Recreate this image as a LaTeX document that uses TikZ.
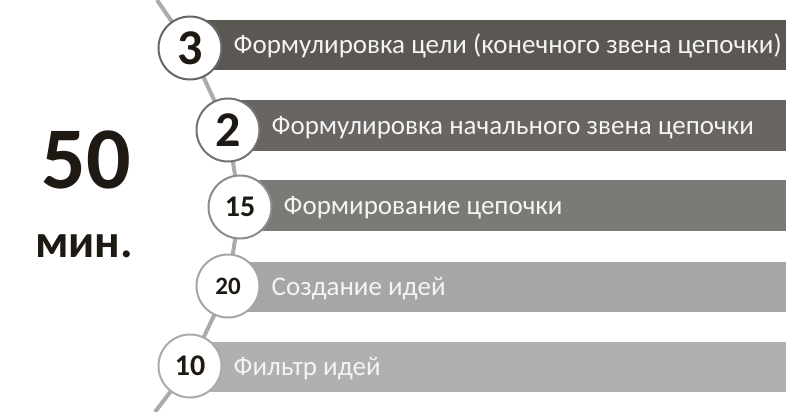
\documentclass[tikz,border=0pt]{standalone}
\usepackage{fontspec}
\setmainfont{Carlito}
\definecolor{barone}{HTML}{5B5753}
\definecolor{bartwo}{HTML}{686562}
\definecolor{barthree}{HTML}{7C7A77}
\definecolor{barfour}{HTML}{A7A6A5}
\definecolor{barfive}{HTML}{B1B0AF}
\definecolor{spinegray}{HTML}{ABABAB}
\definecolor{numbrown}{HTML}{1E1912}
\definecolor{bartext}{HTML}{F4F4F4}
\begin{document}
\begin{tikzpicture}[
            x=1pt, y=-1pt,
            font=\fontsize{27}{32}\selectfont,
            spineline/.style={spinegray, line width=4pt},
            stepbar/.style={anchor=west, inner sep=0pt, minimum height=50pt},
            stepcircle/.style={circle, draw, fill=white, line width=2pt, inner sep=0pt, minimum size=63pt, text=numbrown},
            steptext/.style={anchor=west, inner sep=0pt, text=bartext, text height=17pt, text depth=0pt, xshift=11pt}
        ]
        \useasboundingbox (0,0) rectangle (790,412);
        \def\barright{786};

        %% Spine

        \coordinate (spine_top) at (157,0);
        \coordinate (spine_bottom) at (155,412);
        \coordinate (step1) at (190,48);
        \coordinate (step2) at (228,130);
        \coordinate (step3) at (240,207);
        \coordinate (step4) at (228,286);
        \coordinate (step5) at (190,366);

        \draw[spineline] (spine_top) -- (step1) -- (step2) -- (step3) -- (step4) -- (step5) -- (spine_bottom);

        %% Bars

        \node[stepbar, fill=barone, minimum width=\barright-190] (bar1) at (190,45) {};
        \node[stepbar, fill=bartwo, minimum width=\barright-228, minimum height=51pt] (bar2) at (228,125.5) {};
        \node[stepbar, fill=barthree, minimum width=\barright-240, minimum height=51pt] (bar3) at (240,205.5) {};
        \node[stepbar, fill=barfour, minimum width=\barright-228] (bar4) at (228,287) {};
        \node[stepbar, fill=barfive, minimum width=\barright-190] (bar5) at (190,367) {};

        %% Circles

        \node[stepcircle, draw=black!60, font=\bfseries\fontsize{50}{50}\selectfont] (c1) at (step1) {3};
        \node[stepcircle, draw=black!55, font=\bfseries\fontsize{50}{50}\selectfont] (c2) at (step2) {2};
        \node[stepcircle, draw=black!45, font=\bfseries\fontsize{30}{30}\selectfont] (c3) at (step3) {15};
        \node[stepcircle, draw=black!35, font=\bfseries\fontsize{25}{25}\selectfont] (c4) at (step4) {20};
        \node[stepcircle, draw=black!33, font=\bfseries\fontsize{30}{30}\selectfont] (c5) at (step5) {10};

        %% Labels

        \node[steptext] (t1) at (c1.east |- bar1.west) {Формулировка цели (конечного звена цепочки)};
        \node[steptext] (t2) at (c2.east |- bar2.west) {Формулировка начального звена цепочки};
        \node[steptext] (t3) at (c3.east |- bar3.west) {Формирование цепочки};
        \node[steptext] (t4) at (c4.east |- bar4.west) {Создание идей};
        \node[steptext] (t5) at (c5.east |- bar5.west) {Фильтр идей};

        %% Total time

        \node[anchor=base, inner sep=0pt, text=numbrown, font=\bfseries\fontsize{88}{88}\selectfont] (total) at (86,188) {50};
        \node[anchor=base, inner sep=0pt, text=numbrown, font=\bfseries\fontsize{47}{47}\selectfont] (unit) at (84,257) {мин.};

    \end{tikzpicture}
\end{document}
